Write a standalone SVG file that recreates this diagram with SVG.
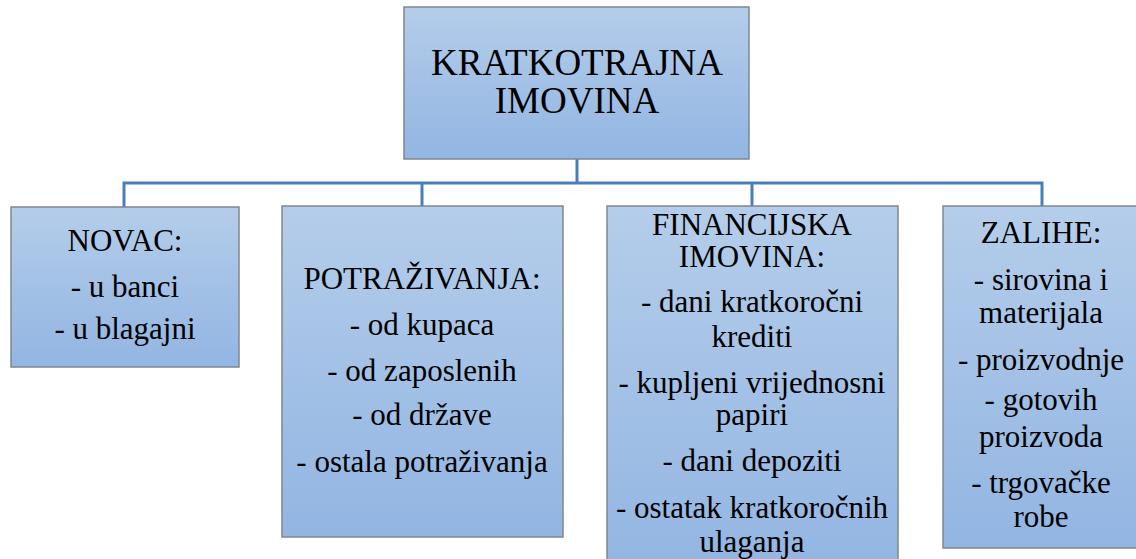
<svg xmlns="http://www.w3.org/2000/svg" width="1136" height="559" viewBox="0 0 1136 559">
<defs>
<linearGradient id="g" x1="0" y1="0" x2="0" y2="1">
<stop offset="0" stop-color="#b4cdea"/>
<stop offset="1" stop-color="#92b5e2"/>
</linearGradient>
<style>
.box{fill:url(#g);stroke:#7f8790;stroke-width:1.5}
.t{font-family:'Liberation Serif','Times New Roman','DejaVu Serif',serif;font-size:31px;fill:#000;text-anchor:middle}
.big{font-size:37px}
.c{fill:none;stroke:#4a7ebb;stroke-width:3}
</style>
</defs>
<rect width="1136" height="559" fill="#fff"/>
<g id="connectors">
<path class="c" d="M577 159V183M124 207V183H1042V207M422 183V206M752 183V206"/>
</g>
<g id="root">
<rect class="box" x="404" y="7" width="345" height="152"/>
<text class="t big" x="577" y="75">KRATKOTRAJNA</text>
<text class="t big" x="577" y="113">IMOVINA</text>
</g>
<g id="novac">
<rect class="box" x="11" y="207" width="228" height="160"/>
<text class="t" x="125" y="251">NOVAC:</text>
<text class="t" x="125" y="297">- u banci</text>
<text class="t" x="125" y="339">- u blagajni</text>
</g>
<g id="potrazivanja">
<rect class="box" x="282" y="206" width="281" height="331"/>
<text class="t" x="422" y="289">POTRAŽIVANJA:</text>
<text class="t" x="422" y="335">- od kupaca</text>
<text class="t" x="422" y="381">- od zaposlenih</text>
<text class="t" x="422" y="425">- od države</text>
<text class="t" x="422" y="472">- ostala potraživanja</text>
</g>
<g id="financijska">
<rect class="box" x="607" y="206" width="291" height="370"/>
<text class="t" x="752" y="235">FINANCIJSKA</text>
<text class="t" x="752" y="267">IMOVINA:</text>
<text class="t" x="752" y="312">- dani kratkoročni</text>
<text class="t" x="752" y="347">krediti</text>
<text class="t" x="752" y="393">- kupljeni vrijednosni</text>
<text class="t" x="752" y="425">papiri</text>
<text class="t" x="752" y="471">- dani depoziti</text>
<text class="t" x="752" y="518">- ostatak kratkoročnih</text>
<text class="t" x="752" y="552">ulaganja</text>
</g>
<g id="zalihe">
<rect class="box" x="943" y="206" width="200" height="342"/>
<text class="t" x="1041" y="243">ZALIHE:</text>
<text class="t" x="1041" y="290">- sirovina i</text>
<text class="t" x="1041" y="323">materijala</text>
<text class="t" x="1041" y="370">- proizvodnje</text>
<text class="t" x="1041" y="410">- gotovih</text>
<text class="t" x="1041" y="447">proizvoda</text>
<text class="t" x="1041" y="493">- trgovačke</text>
<text class="t" x="1041" y="527">robe</text>
</g>
</svg>
